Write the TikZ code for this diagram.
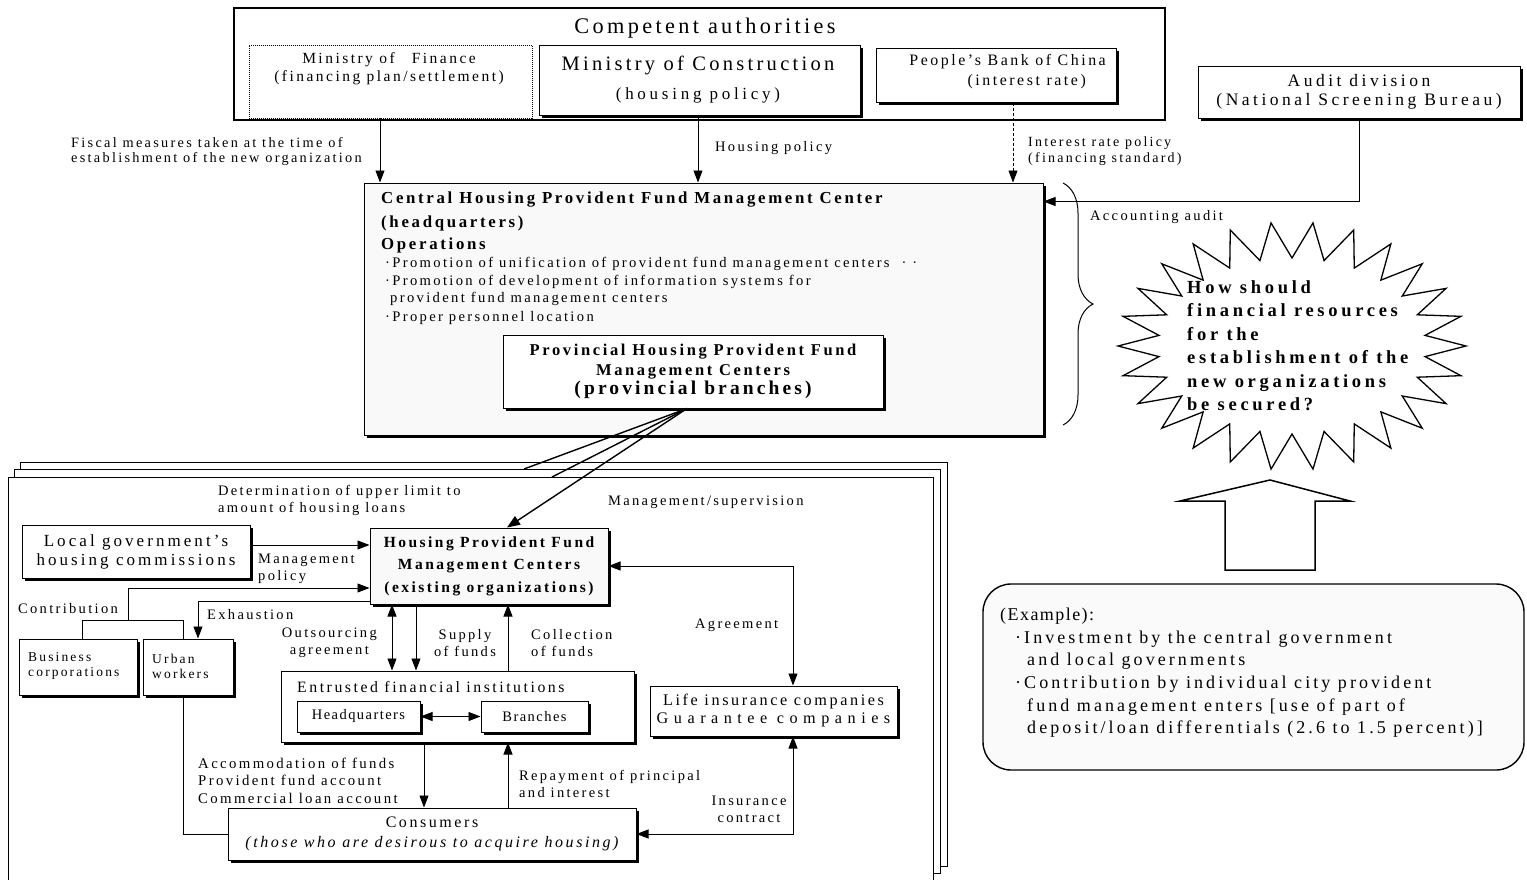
\documentclass[tikz,border=0pt]{standalone}
\usepackage{fontspec}
\setmainfont{Liberation Serif}[LetterSpace=16]
\usetikzlibrary{arrows.meta,shadows,decorations.pathreplacing}
\newcommand\fsz[2]{\fontsize{#1}{#2}\selectfont}
\newcommand\lsp[1]{\addfontfeature{LetterSpace=#1}}
\begin{document}
\begin{tikzpicture}[x=1pt,y=-1pt,
  box/.style={draw, line width=1pt, fill=white, inner sep=0pt},
  shbox/.style={box, drop shadow={shadow xshift=2.5pt, shadow yshift=-2.5pt, fill=black, opacity=1}},
  lbl/.style={inner sep=0pt, align=left, font=\fsz{14.5}{17}},
  line/.style={line width=0.9pt},
  arr/.style={line, -{Triangle[length=12pt,width=9pt]}},
  arr2/.style={line, {Triangle[length=12pt,width=9pt]}-{Triangle[length=12pt,width=9pt]}},
  fanline/.style={line width=1.4pt},
]
\fill[white] (0,0) rectangle (1527,879);
\useasboundingbox (0,0) rectangle (1527,879);

% ---------- competent authorities ----------
\node[box, line width=1.4pt, minimum width=931pt, minimum height=112pt] (comp) at (699.5,64) {};
\node[inner sep=0pt, font=\fsz{22.3}{26}\lsp{15}] (ttl) at (705,28) {Competent authorities};
\node[box, densely dotted, line width=0.8pt, minimum width=283pt, minimum height=73pt] (fin) at (390.5,81.5) {};
\node[inner sep=0pt, align=center, font=\fsz{15.5}{18}] (fint) at (389,69) {Ministry of\hspace{1.1em}Finance\\(financing plan/settlement)};
\node[shbox, minimum width=321pt, minimum height=70pt] (con) at (699.5,80) {};
\node[inner sep=0pt, font=\fsz{20.5}{24}] (cont1) at (698,65) {Ministry of Construction};
\node[inner sep=0pt, font=\fsz{17}{20}\lsp{22}] (cont2) at (698,95) {(housing policy)};
\node[shbox, minimum width=240pt, minimum height=54pt] (bank) at (996,75) {};
\node[inner sep=0pt, anchor=east, font=\fsz{15.9}{18}] (bankt1) at (1106,62) {People's Bank of China};
\node[inner sep=0pt, anchor=east, font=\fsz{15.9}{18}] (bankt2) at (1086,82) {(interest rate)};

% ---------- audit ----------
\node[shbox, minimum width=322pt, minimum height=52pt, align=center, font=\fsz{17.5}{19.5}\lsp{20}] (audit) at (1359,92) {Audit division\\(National Screening Bureau)};

% ---------- central center ----------
\node[shbox, fill=gray!5, minimum width=679pt, minimum height=252pt] (cen) at (703.5,309) {};
\coordinate (fa) at ([xshift=-10.5pt]fin.south);
\draw[arr] (fa) -- (fa |- cen.north);
\coordinate (ca) at ([xshift=-1.5pt]con.south);
\draw[arr] (ca) -- (ca |- cen.north);
\coordinate (ba) at ([xshift=17pt]bank.south);
\draw[arr, line width=0.6pt, densely dashed] (ba) -- (ba |- cen.north);
\draw[arr] (audit.south) |- ([yshift=-19pt]cen.north east);

\node[lbl, anchor=east, font=\fsz{14.3}{15.5}] (l1) at (362,151.5) {Fiscal measures taken at the time of\\establishment of the new organization};
\node[lbl, anchor=west] (l2) at (715,148) {Housing policy};
\node[lbl, anchor=west, font=\fsz{14}{16}] (l3) at (1028,151) {Interest rate policy\\(financing standard)};
\node[lbl, anchor=west] (l4) at (1090,217) {Accounting audit};

\node[inner sep=0pt, anchor=west, font=\bfseries\fsz{16.8}{18}] (c1) at (381,200) {Central Housing Provident Fund Management Center};
\node[inner sep=0pt, anchor=west, font=\bfseries\fsz{16.8}{18}] (c2) at (381,223) {(headquarters)};
\node[inner sep=0pt, anchor=west, font=\bfseries\fsz{16.8}{18}] (c3) at (381,245) {Operations};
\node[inner sep=0pt, anchor=west, font=\fsz{14.6}{17}] (c4) at (385,264) {·Promotion of unification of provident fund management centers~~·~·};
\node[inner sep=0pt, anchor=west, font=\fsz{14.6}{17}] (c5) at (385,282) {·Promotion of development of information systems for};
\node[inner sep=0pt, anchor=west, font=\fsz{14.6}{17}] (c6) at (390,299) {provident fund management centers};
\node[inner sep=0pt, anchor=west, font=\fsz{14.6}{17}] (c7) at (385,318) {·Proper personnel location};
\node[shbox, minimum width=380pt, minimum height=73pt, align=center, font=\bfseries\fsz{16.5}{19.5}] (prov) at (693,371.5) {Provincial Housing Provident Fund\\Management Centers\\{\fsz{19.5}{21}(provincial branches)}};

% brace
\draw[line width=1pt, decorate, decoration={brace, amplitude=30pt, aspect=0.5}] (1063,183) -- (1063,425);

% ---------- starburst ----------
\draw[line width=1.3pt, fill=white] (1466,346)
  \foreach \i in {0,...,25} { -- ({1292+174*cos(\i*360/26)},{346+124*sin(\i*360/26)}) -- ({1292+134*cos((\i+0.5)*360/26)},{346+88*sin((\i+0.5)*360/26)}) } -- cycle;
\node[inner sep=0pt, anchor=north west, align=left, font=\bfseries\fsz{18.5}{23.5}\lsp{20}] (q) at (1187,280) {How should\\financial resources\\for the\\establishment of the\\new organizations\\be secured?};
\draw[line width=1.5pt, line join=miter] (1225,570) -- (1225,501) -- (1180,501) -- (1270,480) -- (1350,501) -- (1315,501) -- (1315,570) -- cycle;

% ---------- example ----------
\node[box, line width=1.4pt, fill=gray!4, rounded corners=28pt, minimum width=541pt, minimum height=186pt] (ex) at (1253.5,677) {};
\node[inner sep=0pt, anchor=north west, align=left, font=\fsz{18}{22.6}\lsp{17}] (ext) at (1000,608) {{\lsp{8}(Example):}\\\hspace*{15pt}·Investment by the central government\\\hspace*{27pt}and local governments\\\hspace*{15pt}·Contribution by individual city provident\\\hspace*{27pt}fund management enters [use of part of\\\hspace*{27pt}deposit/loan differentials (2.6 to 1.5 percent)]};

% ---------- lower frames ----------
\node[box, anchor=north west, minimum width=927pt, minimum height=404pt] (bk) at (20,462) {};
\node[box, anchor=north west, minimum width=926pt, minimum height=404pt] (md) at (14,469) {};
\node[box, anchor=north west, minimum width=925pt, minimum height=420pt] (fr) at (8,477) {};

% boxes
\node[shbox, fill=gray!5, minimum width=238pt, minimum height=76pt, align=center, font=\bfseries\fsz{15.5}{22.5}] (hpf) at (489,566) {Housing Provident Fund\\Management Centers\\(existing organizations)};
\node[shbox, minimum width=228pt, minimum height=53pt, align=center, font=\fsz{17}{19}\lsp{18}] (loc) at (136,551.5) {Local government's\\housing commissions};
\node[shbox, minimum width=118pt, minimum height=56pt] (bus) at (78,667) {};
\node[lbl, anchor=west, font=\fsz{13.5}{15}] (bust) at (28,666) {Business\\corporations};
\node[shbox, minimum width=90pt, minimum height=56pt] (urb) at (188,667) {};
\node[lbl, anchor=west, font=\fsz{13.5}{15}] (urbt) at (152,666) {Urban\\workers};
\node[shbox, minimum width=353pt, minimum height=71pt] (ent) at (457.5,706.5) {};
\node[inner sep=0pt, anchor=west, font=\fsz{15.8}{18}] (entt) at (297,687) {Entrusted financial institutions};
\node[shbox, minimum width=123pt, minimum height=31pt, font=\fsz{14.5}{16}\lsp{10}] (hq) at (358.5,716.5) {Headquarters};
\node[shbox, minimum width=107pt, minimum height=31pt, font=\fsz{14.5}{16}\lsp{10}] (br) at (534.5,716.5) {Branches};
\node[shbox, minimum width=247pt, minimum height=50pt, align=center, font=\fsz{16.2}{18}] (life) at (773.5,711) {Life insurance companies\\{\lsp{34}Guarantee companies}};
\node[shbox, minimum width=408pt, minimum height=52pt, align=center, font=\fsz{16}{20}] (cons) at (432,834) {Consumers\\{\itshape\fsz{16}{20}(those who are desirous to acquire housing)}};

% fan from provincial
\coordinate (pf) at ([xshift=-6pt]prov.south);
\coordinate (fe1) at (524,469);
\coordinate (fe2) at (552,477);
\draw[fanline] (pf) -- (fe1);
\draw[fanline] (pf) -- (fe2);
\draw[fanline, -{Triangle[length=13pt,width=10pt]}] (pf) -- ([xshift=18pt]hpf.north);

% connectors lower
\coordinate (la) at ([yshift=6.5pt]loc.east);
\draw[arr] (la) -- (la -| hpf.west);
\coordinate (cj) at (128,620);
\draw[line] ([xshift=4pt]bus.north) |- (cj) -| ([xshift=-5pt]urb.north);
\draw[arr] (cj) |- ([yshift=-22pt]hpf.west);
\draw[arr] ([yshift=-35pt]hpf.west) -| ([xshift=10pt]urb.north);
\draw[line] ([xshift=-5pt]urb.south) |- (cons.west);
\coordinate (o1) at ([xshift=-97pt]hpf.south);
\draw[arr2] (o1) -- (o1 |- ent.north);
\coordinate (s1) at ([xshift=-73pt]hpf.south);
\draw[arr] (s1) -- (s1 |- ent.north);
\coordinate (k1) at ([xshift=19pt]hpf.south);
\draw[arr] (k1 |- ent.north) -- (k1);
\draw[arr2] (hq.east) -- (br.west);
\coordinate (a1) at ([xshift=-33.5pt]ent.south);
\draw[arr] (a1) -- (a1 |- cons.north);
\coordinate (r1) at ([xshift=50.5pt]ent.south);
\draw[arr] (r1 |- cons.north) -- (r1);
\coordinate (lt) at ([xshift=19.5pt]life.north);
\draw[arr2] (hpf.east) -| (lt);
\coordinate (lb) at ([xshift=19.5pt]life.south);
\draw[arr2] (cons.east) -| (lb);

% labels lower
\node[lbl, anchor=west] (d1) at (218,500) {Determination of upper limit to\\amount of housing loans};
\node[lbl, anchor=west] (d2) at (608,502) {Management/supervision};
\node[lbl, anchor=west] (d3) at (258,569) {Management\\policy};
\node[lbl, anchor=west] (d4) at (18,609) {Contribution};
\node[lbl, anchor=west] (d5) at (207,615) {Exhaustion};
\node[lbl, anchor=east, align=center] (d6) at (377,643) {Outsourcing\\agreement};
\node[lbl, align=center] (d7) at (465,643) {Supply\\of funds};
\node[lbl, anchor=west] (d8) at (531,643) {Collection\\of funds};
\node[lbl, anchor=west] (d9) at (695,625) {Agreement};
\node[lbl, anchor=west, font=\fsz{14.8}{17.5}] (d10) at (198,780.5) {Accommodation of funds\\Provident fund account\\Commercial loan account};
\node[lbl, anchor=west] (d11) at (519,783.5) {Repayment of principal\\and interest};
\node[lbl, align=center] (d12) at (749,809) {Insurance\\contract};
\end{tikzpicture}
\end{document}
